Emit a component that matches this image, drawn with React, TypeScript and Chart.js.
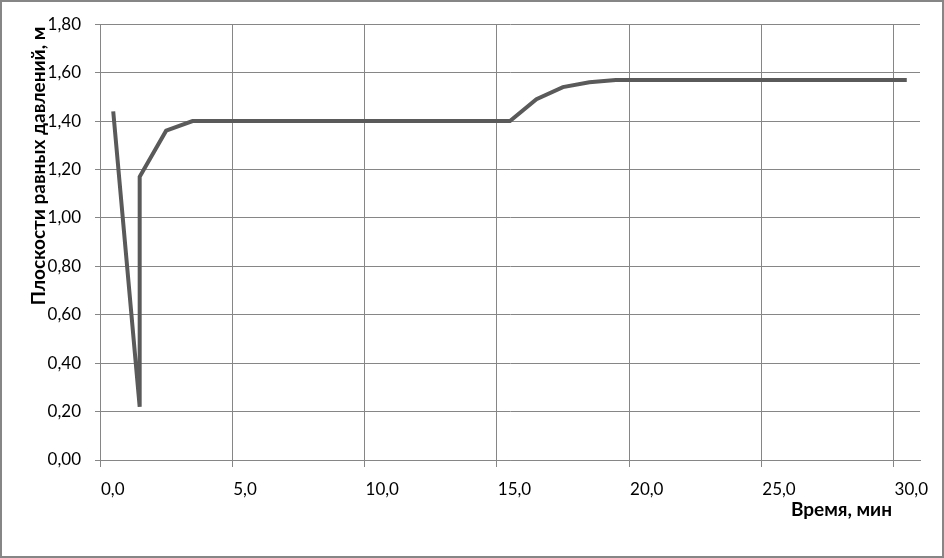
import React, { useEffect, useRef } from "react";
import { Chart, registerables } from "chart.js";

Chart.register(...registerables);

const timeMin: number[] = [
  0.5, 1.5, 1.5, 2.5, 3.5, 4.5, 5.5, 6.5, 7.5, 8.5, 9.5, 10.5, 11.5, 12.5, 13.5, 14.5,
  15.5, 16.5, 17.5, 18.5, 19.5, 20.5, 21.5, 22.5, 23.5, 24.5, 25.5, 26.5, 27.5, 28.5,
  29.5, 30.5,
];
const levelM: number[] = [
  1.44, 0.22, 1.17, 1.36, 1.4, 1.4, 1.4, 1.4, 1.4, 1.4, 1.4, 1.4, 1.4, 1.4, 1.4, 1.4,
  1.4, 1.49, 1.54, 1.56, 1.57, 1.57, 1.57, 1.57, 1.57, 1.57, 1.57, 1.57, 1.57, 1.57,
  1.57, 1.57,
];
const xTicks: number[] = [0, 5, 10, 15, 20, 25, 30];
const yTitle = "Плоскости равных давлений, м";
const xTitle = "Время, мин";

const FONT = "Lato, 'Open Sans', sans-serif";

export default function App() {
  const ref = useRef<HTMLCanvasElement | null>(null);

  useEffect(() => {
    document.body.style.margin = "0";
    const canvas = ref.current;
    if (!canvas) return;

    const framePlugin = {
      id: "frame",
      beforeDraw(chart: any) {
        const ctx = chart.ctx;
        ctx.save();
        ctx.fillStyle = "#ffffff";
        ctx.fillRect(0, 0, chart.width, chart.height);
        ctx.restore();
      },
      afterDraw(chart: any) {
        const ctx = chart.ctx;
        ctx.save();
        ctx.strokeStyle = "#868686";
        ctx.lineWidth = 2;
        ctx.strokeRect(1, 1, chart.width - 2, chart.height - 2);
        ctx.fillStyle = "#000000";
        ctx.font = `bold 19px ${FONT}`;
        ctx.textAlign = "center";
        ctx.textBaseline = "middle";
        ctx.translate(39, 166);
        ctx.rotate(-Math.PI / 2);
        ctx.fillText(yTitle, 0, 0);
        ctx.restore();
        ctx.save();
        ctx.fillStyle = "#000000";
        ctx.font = `bold 19px ${FONT}`;
        ctx.textAlign = "right";
        ctx.textBaseline = "alphabetic";
        ctx.fillText(xTitle, 892, 516);
        ctx.restore();
      },
    };

    const chart = new Chart(canvas, {
      type: "scatter",
      data: {
        datasets: [
          {
            data: timeMin.map((t, i) => ({ x: t, y: levelM[i] })),
            showLine: true,
            borderColor: "#5a5a5a",
            borderWidth: 4,
            pointRadius: 0,
            pointHoverRadius: 0,
            tension: 0,
          },
        ],
      },
      options: {
        responsive: false,
        animation: false,
        events: [],
        layout: { padding: { top: 24, right: 24, left: 0, bottom: 0 } },
        plugins: {
          legend: { display: false },
          tooltip: { enabled: false },
        },
        scales: {
          x: {
            type: "linear",
            min: 0,
            max: 31,
            afterBuildTicks: (scale: any) => {
              scale.ticks = xTicks.map((v) => ({ value: v }));
            },
            afterFit: (scale: any) => {
              scale.height = 98;
            },
            grid: {
              color: "#868686",
              lineWidth: 1,
              tickLength: 7,
              drawTicks: true,
            },
            border: { color: "#868686", width: 1 },
            ticks: {
              color: "#000000",
              font: { family: FONT, size: 17 },
              padding: 12,
              align: "start",
              labelOffset: 1,
              maxRotation: 0,
              autoSkip: false,
              callback: (v: any) => Number(v).toFixed(1).replace(".", ","),
            },
          },
          y: {
            min: 0,
            max: 1.8,
            afterFit: (scale: any) => {
              scale.width = 100;
            },
            grid: {
              color: "#868686",
              lineWidth: 1,
              tickLength: 5,
            },
            border: { color: "#868686", width: 1 },
            ticks: {
              stepSize: 0.2,
              color: "#000000",
              font: { family: FONT, size: 17 },
              padding: 14,
              callback: (v: any) => Number(v).toFixed(2).replace(".", ","),
            },
          },
        },
      },
      plugins: [framePlugin],
    });

    return () => chart.destroy();
  }, []);

  return (
    <div style={{ width: 944, height: 558 }}>
      <canvas ref={ref} width={944} height={558} style={{ display: "block", width: 944, height: 558 }} />
    </div>
  );
}
